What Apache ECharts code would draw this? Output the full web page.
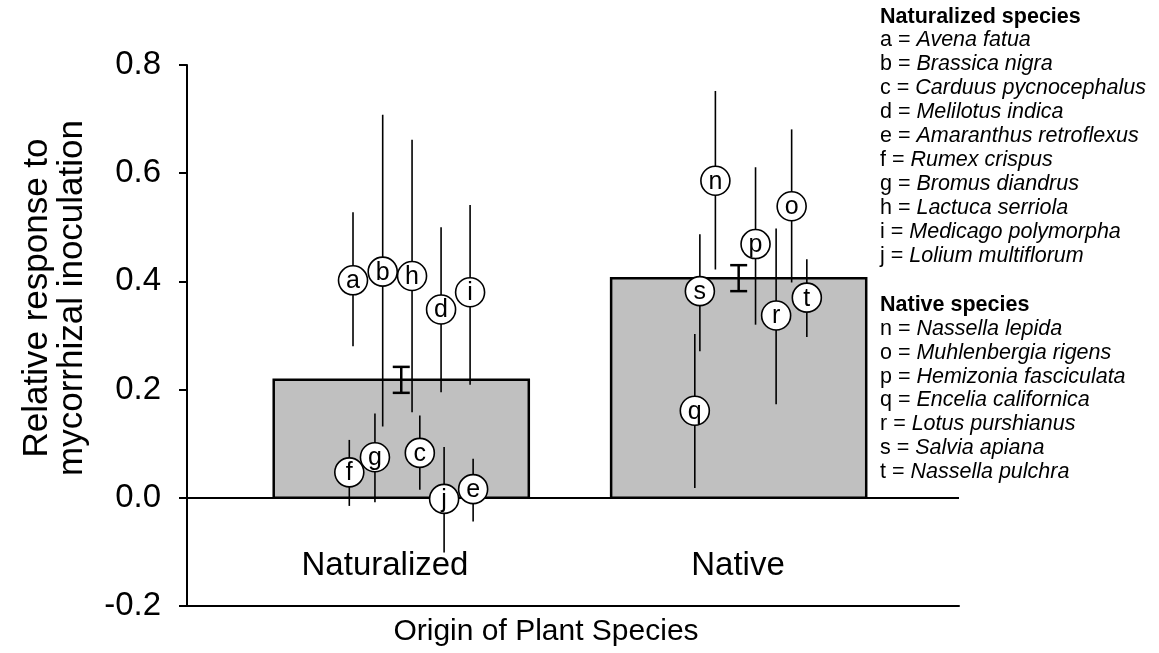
<!DOCTYPE html>
<html>
<head>
<meta charset="utf-8">
<script src="https://cdn.jsdelivr.net/npm/echarts@6/dist/echarts.min.js"></script>
<style>
  html, body { margin: 0; padding: 0; background: #fff; }
  #chart { width: 1159px; height: 653px; }
</style>
</head>
<body>
<div id="chart"></div>
<script>
// group bars (mean +/- SE)
const categories = ["Naturalized", "Native"];
const groupMeans = [0.218, 0.406];
const groupSE = [0.024, 0.024];

// naturalized species a..j
const natLetters = ["a", "b", "c", "d", "e", "f", "g", "h", "i", "j"];
const natNames = ["Avena fatua", "Brassica nigra", "Carduus pycnocephalus", "Melilotus indica",
  "Amaranthus retroflexus", "Rumex crispus", "Bromus diandrus", "Lactuca serriola",
  "Medicago polymorpha", "Lolium multiflorum"];
const natValues = [0.402, 0.418, 0.083, 0.348, 0.016, 0.047, 0.075, 0.410, 0.380, -0.002];
const natLow = [0.280, 0.132, 0.015, 0.195, -0.044, -0.015, -0.008, 0.158, 0.209, -0.101];
const natHigh = [0.528, 0.708, 0.152, 0.500, 0.072, 0.107, 0.156, 0.662, 0.541, 0.094];
const natOffset = [-0.143, -0.055, 0.055, 0.118, 0.213, -0.154, -0.078, 0.032, 0.204, 0.127];

// native species n..t
const natvLetters = ["n", "o", "p", "q", "r", "s", "t"];
const natvNames = ["Nassella lepida", "Muhlenbergia rigens", "Hemizonia fasciculata",
  "Encelia californica", "Lotus purshianus", "Salvia apiana", "Nassella pulchra"];
const natvValues = [0.586, 0.539, 0.469, 0.161, 0.337, 0.382, 0.370];
const natvLow = [0.422, 0.398, 0.320, 0.018, 0.173, 0.271, 0.297];
const natvHigh = [0.752, 0.681, 0.611, 0.303, 0.498, 0.487, 0.441];
const natvOffset = [-0.069, 0.157, 0.050, -0.130, 0.111, -0.115, 0.202];

const yTicks = [-0.2, 0.0, 0.2, 0.4, 0.6, 0.8];

const FONT = "'Liberation Sans', Arial, sans-serif";
const BAR_HALF = 0.378;

// build point rows: [x, value, low, high]
const letters = natLetters.concat(natvLetters);
const points = [];
natValues.forEach((v, i) => points.push([1 + natOffset[i], v, natLow[i], natHigh[i]]));
natvValues.forEach((v, i) => points.push([2 + natvOffset[i], v, natvLow[i], natvHigh[i]]));

const barData = groupMeans.map((m, i) => [i + 1, m, groupSE[i]]);

const chart = echarts.init(document.getElementById("chart"));

const graphics = [];
// y axis title, two lines
graphics.push({
  type: "text", x: 37, y: 298, rotation: Math.PI / 2,
  style: { text: "Relative response to", font: "35px " + FONT, fill: "#000", align: "center", verticalAlign: "middle" }
});
graphics.push({
  type: "text", x: 72, y: 298, rotation: Math.PI / 2,
  style: { text: "mycorrhizal inoculation", font: "35px " + FONT, fill: "#000", align: "center", verticalAlign: "middle" }
});
// category labels
const catX = [385, 738];
categories.forEach((c, i) => {
  graphics.push({
    type: "text", x: catX[i], y: 566,
    style: { text: c, font: "33px " + FONT, fill: "#000", align: "center", verticalAlign: "middle" }
  });
});
graphics.push({
  type: "text", x: 546, y: 632,
  style: { text: "Origin of Plant Species", font: "30px " + FONT, fill: "#000", align: "center", verticalAlign: "middle" }
});
// species key
const keyRich = { i: { fontStyle: "italic", fontSize: 21.5, fontFamily: FONT, fill: "#000" } };
graphics.push({
  type: "text", x: 880, y: 17,
  style: { text: "Naturalized species", font: "bold 21.5px " + FONT, fill: "#000", verticalAlign: "middle" }
});
natLetters.forEach((l, i) => {
  graphics.push({
    type: "text", x: 880, y: 40 + 24 * i,
    style: { text: l + " = {i|" + natNames[i] + "}", fontSize: 21.5, fontFamily: FONT, fill: "#000", verticalAlign: "middle", rich: keyRich }
  });
});
graphics.push({
  type: "text", x: 880, y: 305,
  style: { text: "Native species", font: "bold 21.5px " + FONT, fill: "#000", verticalAlign: "middle" }
});
natvLetters.forEach((l, i) => {
  graphics.push({
    type: "text", x: 880, y: 329 + 23.8 * i,
    style: { text: l + " = {i|" + natvNames[i] + "}", fontSize: 21.5, fontFamily: FONT, fill: "#000", verticalAlign: "middle", rich: keyRich }
  });
});

const option = {
  backgroundColor: "#fff",
  animation: false,
  grid: { left: 187, right: 200, top: 65, bottom: 47 },
  xAxis: {
    type: "value",
    min: 0.365,
    max: 2.653,
    axisLine: { show: true, onZero: false, lineStyle: { color: "#000", width: 2 } },
    axisTick: { show: false },
    axisLabel: { show: false },
    splitLine: { show: false }
  },
  yAxis: {
    type: "value",
    min: yTicks[0],
    max: yTicks[yTicks.length - 1],
    interval: 0.2,
    axisLine: { show: true, lineStyle: { color: "#000", width: 2 } },
    axisTick: { show: true, length: 8, lineStyle: { color: "#000", width: 2 } },
    axisLabel: {
      color: "#000", fontSize: 33, fontFamily: FONT, margin: 26,
      formatter: v => v.toFixed(1)
    },
    splitLine: { show: false }
  },
  graphic: graphics,
  series: [
    {
      type: "custom",
      name: "groups",
      z: 2,
      data: barData,
      renderItem: (params, api) => {
        const x = api.value(0), m = api.value(1);
        const p0 = api.coord([x - BAR_HALF, m]);
        const p1 = api.coord([x + BAR_HALF, 0]);
        return {
          type: "rect",
          shape: { x: p0[0], y: p0[1], width: p1[0] - p0[0], height: p1[1] - p0[1] },
          style: { fill: "#c0c0c0", stroke: "#000", lineWidth: 2.5 }
        };
      },
      markLine: {
        silent: true,
        symbol: ["none", "none"],
        label: { show: false },
        lineStyle: { color: "#000", width: 2, type: "solid" },
        data: [{ yAxis: 0 }]
      }
    },
    {
      type: "custom",
      name: "groupSE",
      z: 3,
      data: barData,
      renderItem: (params, api) => {
        const x = api.value(0), m = api.value(1), se = api.value(2);
        const top = api.coord([x, m + se]);
        const bot = api.coord([x, m - se]);
        const cap = 8.5;
        const st = { stroke: "#000", lineWidth: 2.5 };
        return {
          type: "group",
          children: [
            { type: "line", shape: { x1: top[0], y1: top[1], x2: bot[0], y2: bot[1] }, style: st },
            { type: "line", shape: { x1: top[0] - cap, y1: top[1], x2: top[0] + cap, y2: top[1] }, style: st },
            { type: "line", shape: { x1: bot[0] - cap, y1: bot[1], x2: bot[0] + cap, y2: bot[1] }, style: st }
          ]
        };
      }
    },
    {
      type: "custom",
      name: "speciesRange",
      z: 4,
      data: points,
      renderItem: (params, api) => {
        const x = api.value(0);
        const lo = api.coord([x, api.value(2)]);
        const hi = api.coord([x, api.value(3)]);
        return {
          type: "line",
          shape: { x1: lo[0], y1: lo[1], x2: hi[0], y2: hi[1] },
          style: { stroke: "#000", lineWidth: 1.6 }
        };
      }
    },
    {
      type: "custom",
      name: "speciesMean",
      z: 5,
      data: points,
      renderItem: (params, api) => {
        const c = api.coord([api.value(0), api.value(1)]);
        return {
          type: "group",
          children: [
            { type: "circle", shape: { cx: c[0], cy: c[1], r: 14.5 }, style: { fill: "#fff", stroke: "#000", lineWidth: 1.6 } },
            {
              type: "text", x: c[0], y: c[1] + 1,
              style: { text: letters[params.dataIndex], font: "25px " + FONT, fill: "#000", align: "center", verticalAlign: "middle" }
            }
          ]
        };
      }
    }
  ]
};

chart.setOption(option);
</script>
</body>
</html>
